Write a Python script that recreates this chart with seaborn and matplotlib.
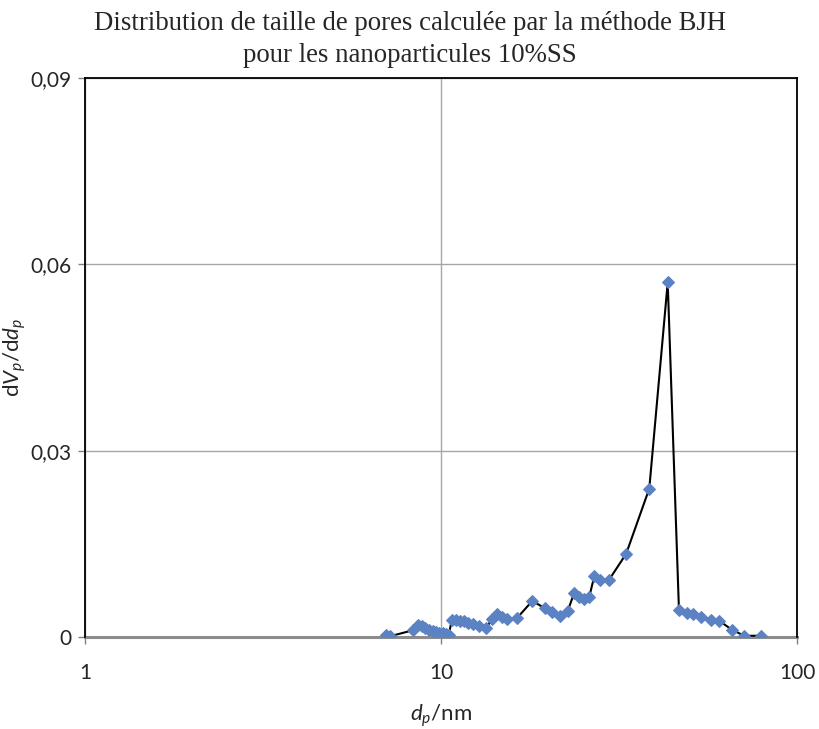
import matplotlib
matplotlib.use("Agg")
import matplotlib.pyplot as plt
import seaborn as sns
import pandas as pd
from matplotlib.ticker import FixedLocator, NullLocator

# Pore diameter (nm) and BJH distribution dVp/ddp
diametre = [6.99, 7.17, 8.36, 8.60, 8.83, 9.02, 9.27, 9.48, 9.68, 9.89,
            10.11, 10.33, 10.51, 10.72, 11.02, 11.31, 11.63, 11.93, 12.27, 12.81,
            13.41, 13.88, 14.34, 14.81, 15.35, 16.32, 18.05, 19.63, 20.47, 21.59,
            22.69, 23.68, 24.41, 25.22, 26.10, 26.96, 27.97, 29.65, 33.13, 38.47,
            43.34, 46.61, 49.19, 51.13, 53.74, 57.33, 60.49, 65.54, 71.01, 79.22]
dvdd = [0.0003, 0.0001, 0.0011, 0.0019, 0.0017, 0.0014, 0.0011, 0.0010, 0.00085, 0.0007,
        0.0006, 0.0005, 0.0003, 0.0027, 0.0027, 0.0026, 0.0025, 0.0023, 0.0021, 0.0017,
        0.0014, 0.0029, 0.0037, 0.0033, 0.0029, 0.0030, 0.0058, 0.0046, 0.0041, 0.0034,
        0.0042, 0.0071, 0.0065, 0.0061, 0.0065, 0.0098, 0.0091, 0.0092, 0.0134, 0.0239,
        0.0571, 0.00435, 0.0039, 0.00365, 0.0033, 0.0028, 0.0026, 0.0012, 0.0002, 0.0002]

xticks = [1, 10, 100]
xtick_labels = ["1", "10", "100"]
yticks = [0, 0.03, 0.06, 0.09]
ytick_labels = ["0", "0,03", "0,06", "0,09"]

titre = "Distribution de taille de pores calculée par la méthode BJH\npour les nanoparticules 10%SS"

sns.set_style("white")
plt.rcParams["font.family"] = ["Lato", "DejaVu Sans"]
plt.rcParams["mathtext.fontset"] = "custom"
plt.rcParams["mathtext.it"] = "Lato:italic"
plt.rcParams["mathtext.rm"] = "Lato"

df = pd.DataFrame({"dp": diametre, "dv": dvdd})

fig = plt.figure(figsize=(8.19, 7.29), dpi=100)
ax = fig.add_axes([0.1038, 0.1262, 0.8693, 0.7668])

ax.set_xscale("log")
ax.set_xlim(1, 100)
ax.set_ylim(0, 0.09)

# grid
ax.xaxis.set_major_locator(FixedLocator(xticks))
ax.xaxis.set_minor_locator(NullLocator())
ax.yaxis.set_major_locator(FixedLocator(yticks))
ax.grid(True, color="#a6a6a6", linewidth=1.0)
ax.set_axisbelow(True)

sns.lineplot(data=df, x="dp", y="dv", sort=False, ax=ax, color="black",
             linewidth=1.5, marker="D", markersize=6.5,
             markerfacecolor="#5b82c2", markeredgecolor="#5b82c2", zorder=3)

ax.set_xticks(xticks)
ax.set_xticklabels(xtick_labels)
ax.set_yticks(yticks)
ax.set_yticklabels(ytick_labels)
ax.tick_params(axis="both", labelsize=15, length=5, width=1, color="#808080",
               direction="out", bottom=True, left=True)
ax.tick_params(axis="x", pad=14)
ax.tick_params(axis="y", pad=5)

for side in ["top", "right", "left"]:
    ax.spines[side].set_color("black")
    ax.spines[side].set_linewidth(1.3)
ax.spines["bottom"].set_color("#8c8c8c")
ax.spines["bottom"].set_linewidth(2.2)
ax.spines["bottom"].set_zorder(2)

ax.set_xlabel(r"$\mathit{d_p}$/nm", fontsize=16, labelpad=14)
ax.set_ylabel(r"d$\mathit{V_p}$/d$\mathit{d_p}$", fontsize=16)
ax.yaxis.set_label_coords(-0.08, 0.5)

fig.suptitle(titre, fontsize=19.3, family=["Liberation Serif", "DejaVu Serif"],
             y=0.985, va="top", linespacing=1.35)

fig.savefig("out.png", dpi=100)
